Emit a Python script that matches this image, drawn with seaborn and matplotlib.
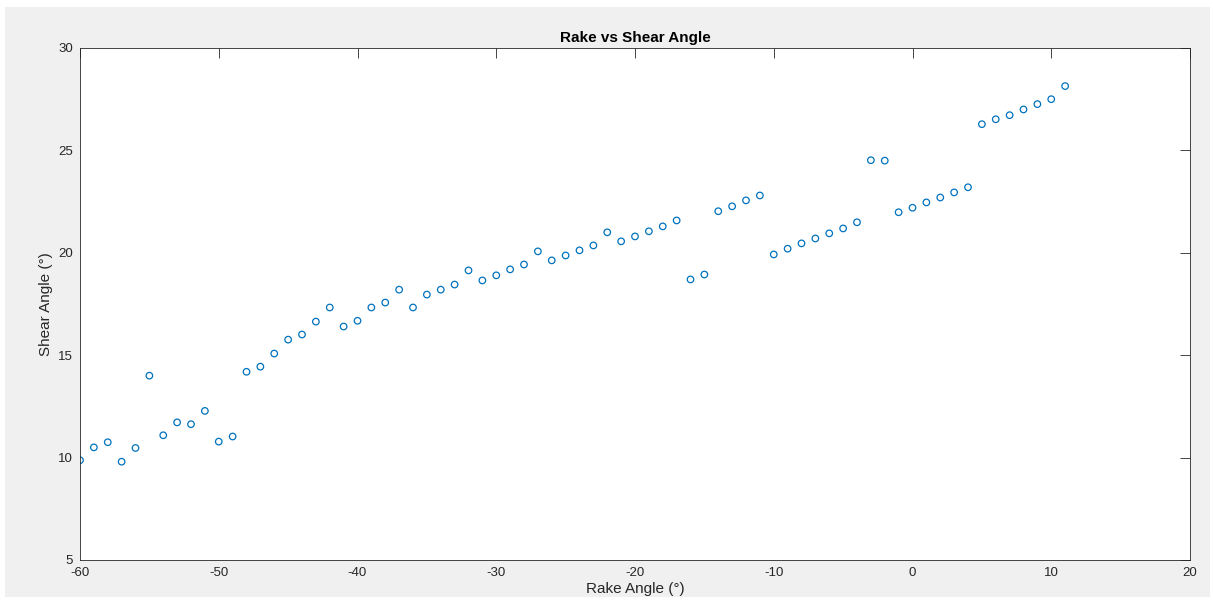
import matplotlib
matplotlib.use("Agg")
import matplotlib.pyplot as plt
import seaborn as sns
import pandas as pd
from matplotlib.patches import Rectangle

# Rake angle (deg) and measured shear angle (deg)
rake_angle = list(range(-60, 12))
shear_angle = [
    9.87, 10.50, 10.75, 9.80, 10.47, 14.00, 11.09, 11.72, 11.63, 12.28,
    10.78, 11.03, 14.19, 14.44, 15.08, 15.76, 16.01, 16.64, 17.33, 16.40,
    16.68, 17.33, 17.57, 18.20, 17.33, 17.96, 18.20, 18.45, 19.14, 18.65,
    18.90, 19.19, 19.43, 20.07, 19.63, 19.87, 20.12, 20.36, 21.00, 20.56,
    20.80, 21.05, 21.29, 21.58, 18.70, 18.94, 22.03, 22.27, 22.56, 22.80,
    19.92, 20.20, 20.46, 20.70, 20.95, 21.19, 21.49, 24.52, 24.50, 21.98,
    22.20, 22.46, 22.70, 22.95, 23.20, 26.28, 26.52, 26.72, 27.00, 27.26,
    27.50, 28.14,
]
x_ticks = [-60, -50, -40, -30, -20, -10, 0, 10, 20]
y_ticks = [5, 10, 15, 20, 25, 30]

df = pd.DataFrame({"rake": rake_angle, "shear": shear_angle})

sns.set_style("white")
plt.rcParams["font.family"] = ["Liberation Sans", "DejaVu Sans"]

fig = plt.figure(figsize=(12.13, 6.02), dpi=100, facecolor="white")
# grey window panel behind the axes
fig.patches.append(Rectangle((5 / 1213, 5 / 602), 1205 / 1213, 590 / 602,
                             transform=fig.transFigure, facecolor="#f0f0f0",
                             edgecolor="none", zorder=-1))
ax = fig.add_axes([80 / 1213, 1 - 560 / 602, 1110 / 1213, 512 / 602])
ax.set_facecolor("white")

sns.scatterplot(data=df, x="rake", y="shear", ax=ax, marker="o",
                facecolors="none", edgecolor="#0072BD", linewidth=0.9,
                s=22, legend=False)

ax.set_xlim(-60, 20)
ax.set_ylim(5, 30)
ax.set_xticks(x_ticks)
ax.set_yticks(y_ticks)
ax.set_xticklabels([str(t) for t in x_ticks])
ax.set_yticklabels([str(t) for t in y_ticks])

ax.tick_params(axis="both", which="both", direction="in", length=7.5, width=0.6,
               colors="#262626", labelsize=9.5, top=True, right=True,
               labelcolor="#262626")
ax.tick_params(axis="x", pad=5)
ax.tick_params(axis="y", pad=5)
for sp in ax.spines.values():
    sp.set_visible(True)
    sp.set_color("#262626")
    sp.set_linewidth(0.6)

ax.set_xlabel("Rake Angle (°)", fontsize=11, color="#262626", labelpad=2)
ax.set_ylabel("Shear Angle (°)", fontsize=11, color="#262626", labelpad=4)
ax.set_title("Rake vs Shear Angle", fontsize=11, fontweight="bold",
             color="black", pad=4)

fig.savefig("out.png", dpi=100, facecolor=fig.get_facecolor())
